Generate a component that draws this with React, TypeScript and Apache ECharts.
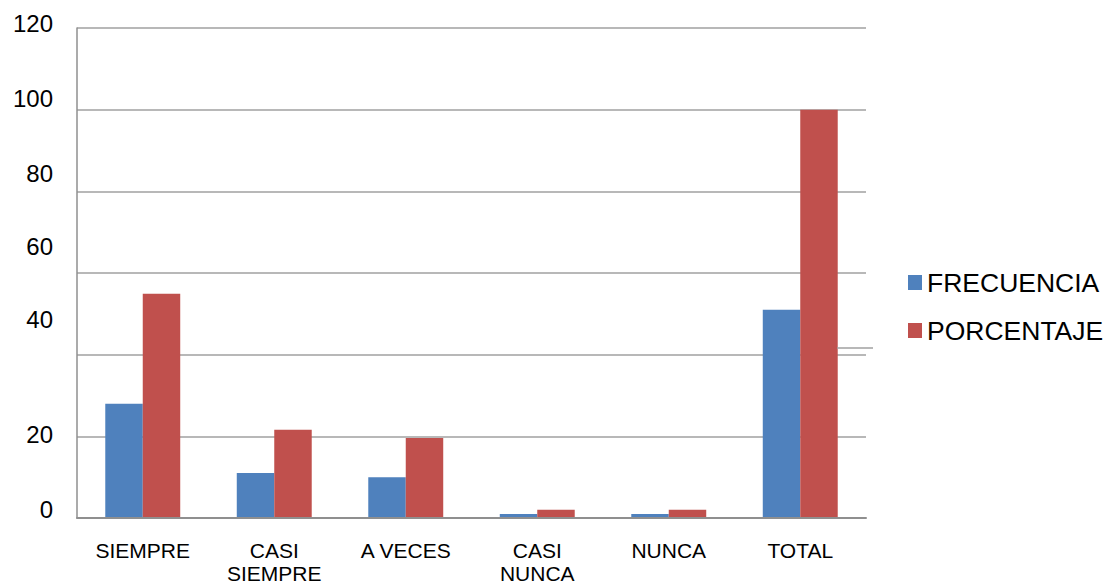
import React, { useEffect, useRef } from "react";
import * as echarts from "echarts";

const categories = ["SIEMPRE", "CASI\nSIEMPRE", "A VECES", "CASI\nNUNCA", "NUNCA", "TOTAL"];
const frecuencia = [28, 11, 10, 1, 1, 51];
const porcentaje = [54.9, 21.6, 19.6, 2, 2, 100];
const yTicks = [0, 20, 40, 60, 80, 100, 120];
const seriesNames = ["FRECUENCIA", "PORCENTAJE"];

// how far (px) each y tick label sits above its gridline in the reference
const yLabelLift: Record<number, number> = { 0: 9, 20: 2, 40: 35, 60: 27, 80: 18, 100: 11, 120: 5 };

const FONT = "'Liberation Sans', Arial, sans-serif";

export default function App() {
  const ref = useRef<HTMLDivElement>(null);
  useEffect(() => {
    if (!ref.current) return;
    const chart = echarts.init(ref.current, undefined, { renderer: "svg" });
    const rich: Record<string, any> = {};
    yTicks.forEach((t) => {
      rich["t" + t] = {
        fontSize: 24,
        fontFamily: FONT,
        color: "#000",
        padding: [0, 0, 2 * (yLabelLift[t] || 0), 0],
      };
    });
    chart.setOption({
      animation: false,
      backgroundColor: "#fff",
      grid: { left: 77, right: 241, top: 28, bottom: 64, containLabel: false },
      legend: {
        orient: "vertical",
        left: 903,
        top: 259,
        padding: 5,
        itemWidth: 14,
        itemHeight: 15,
        itemGap: 11,
        icon: "rect",
        selectedMode: false,
        data: seriesNames,
        textStyle: {
          fontSize: 26.5,
          fontFamily: FONT,
          color: "#000",
          lineHeight: 30,
          padding: [0, 0, 7, 0],
        },
      },
      xAxis: {
        type: "category",
        data: categories,
        z: 3,
        axisLine: { show: true, lineStyle: { color: "#8f8f8f", width: 2 } },
        axisTick: { show: false },
        axisLabel: {
          interval: 0,
          margin: 21,
          fontSize: 21,
          lineHeight: 23,
          fontFamily: FONT,
          color: "#000",
        },
        splitLine: { show: false },
      },
      yAxis: {
        type: "value",
        min: 0,
        max: 120,
        interval: 20,
        axisLine: { show: true, lineStyle: { color: "#8f8f8f", width: 1.5 } },
        axisTick: { show: false },
        axisLabel: {
          margin: 24,
          formatter: (v: number) => `{t${v}|${v}}`,
          rich,
        },
        splitLine: { show: true, lineStyle: { color: "#a0a0a0", width: 1.5 } },
      },
      series: [
        {
          name: seriesNames[0],
          type: "bar",
          data: frecuencia,
          barGap: "0%",
          barCategoryGap: "43%",
          itemStyle: { color: "#4F81BD" },
        },
        {
          name: seriesNames[1],
          type: "bar",
          data: porcentaje,
          barGap: "0%",
          barCategoryGap: "43%",
          itemStyle: { color: "#C0504D" },
        },
      ],
      graphic: [
        {
          type: "line",
          shape: { x1: 837, y1: 348, x2: 873, y2: 348 },
          style: { stroke: "#a0a0a0", lineWidth: 1.5 },
          z: 10,
        },
      ],
    });
    return () => chart.dispose();
  }, []);
  return (
    <div
      ref={ref}
      style={{ position: "fixed", left: 0, top: 0, width: 1107, height: 585 }}
    />
  );
}
